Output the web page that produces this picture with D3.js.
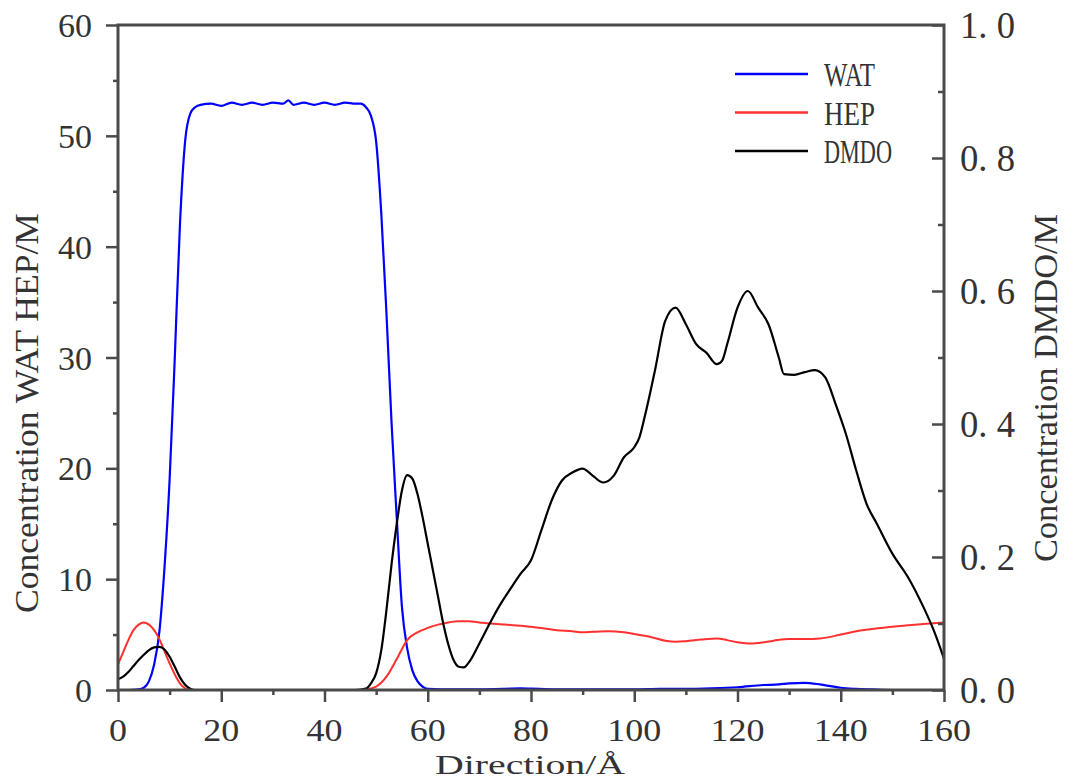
<!DOCTYPE html>
<html><head><meta charset="utf-8">
<script src="https://cdn.jsdelivr.net/npm/d3@7"></script>
<style>body{margin:0;background:#fff}svg{display:block}</style>
</head><body>
<svg id="chart" width="1068" height="782"></svg>
<script>
// ---------------- data ----------------
const watX = [0,2,4,5,6,7,8,9,10,11,12,13,14,15,16,18,20,22,24,26,28,30,32,33,34,36,38,40,42,44,46,47,48,49,50,51,52,53,54,55,56,57,58,59,60,65,70,75,78,80,85,90,95,100,105,110,115,120,125,128,130,133,136,138,140,143,146,150,155,160];
const watY = [0,0,0.05,0.2,0.8,2.3,5.2,11,19,30,42,49.5,52,52.6,52.8,52.9,52.7,53.0,52.8,53.0,52.8,53.0,52.9,53.2,52.8,53.0,52.8,53.0,52.8,53.0,52.9,52.9,52.6,51.8,49.5,43,34,24,15.5,7.5,3.8,1.8,0.8,0.3,0.1,0.05,0.05,0.1,0.15,0.12,0.05,0.05,0.05,0.05,0.1,0.1,0.15,0.25,0.45,0.5,0.6,0.65,0.5,0.35,0.2,0.1,0.05,0,0,0];

const hepX = [0,1,2,3,4,5,6,7,8,9,10,11,12,13,14,20,30,40,47,48,50,52,54,56,58,60,62,64,66,68,70,72,75,78,80,82,85,88,90,92,95,98,100,103,106,108,110,113,116,118,120,122,124,127,130,133,136,140,143,146,150,153,156,160];
const hepY = [2.3,3.4,4.5,5.4,5.9,6.1,5.9,5.4,4.6,3.5,2.4,1.4,0.6,0.15,0,0,0,0,0,0.05,0.3,1.2,2.8,4.5,5.2,5.6,5.9,6.1,6.2,6.2,6.1,6.0,5.9,5.8,5.7,5.6,5.4,5.3,5.2,5.25,5.3,5.2,5.05,4.8,4.45,4.35,4.4,4.55,4.65,4.5,4.3,4.2,4.25,4.45,4.6,4.6,4.65,5.0,5.3,5.5,5.7,5.85,5.95,6.1];

const dmdoX = [0,1,2,3,4,5,6,7,8,9,10,11,12,13,14,15,20,30,40,46,48,49,50,51,52,53,54,55,56,57,58,59,60,61,62,63,64,65,66,67,68,70,72,74,76,78,80,82,84,86,88,90,92,94,96,98,100,101,102,104,106,108,110,112,114,116,117,118,120,122,124,126,128,129,131,133,135,137,139,141,143,145,147,150,153,156,158,160];
const dmdoY = [0.016,0.02,0.027,0.036,0.045,0.053,0.06,0.064,0.065,0.061,0.05,0.035,0.019,0.008,0.002,0,0,0,0,0,0.002,0.01,0.025,0.06,0.12,0.19,0.25,0.3,0.323,0.318,0.295,0.26,0.22,0.18,0.14,0.1,0.068,0.045,0.035,0.034,0.042,0.07,0.1,0.128,0.152,0.175,0.195,0.24,0.285,0.315,0.327,0.333,0.322,0.312,0.322,0.35,0.365,0.38,0.41,0.48,0.555,0.575,0.55,0.52,0.507,0.49,0.495,0.52,0.575,0.6,0.575,0.55,0.5,0.475,0.474,0.478,0.481,0.47,0.43,0.385,0.33,0.28,0.25,0.205,0.17,0.125,0.09,0.047];

const xTicks = [0,20,40,60,80,100,120,140,160];
const xMinor = [10,30,50,70,90,110,130,150];
const yLeftTicks = [0,10,20,30,40,50,60];
const yLeftMinor = [5,15,25,35,45,55];
const yRightTicks = [0,0.2,0.4,0.6,0.8,1.0];
const yRightLabels = ["0. 0","0. 2","0. 4","0. 6","0. 8","1. 0"];
const yRightMinor = [0.1,0.3,0.5,0.7,0.9];
const seriesNames = ["WAT","HEP","DMDO"];
const seriesColors = ["#0000ff","#ff3030","#000000"];

// ---------------- drawing ----------------
const svg = d3.select("#chart");
const L = 118, R = 944, T = 25, B = 690;
const x = d3.scaleLinear().domain([0,160]).range([L,R]);
const yL = d3.scaleLinear().domain([0,60]).range([B,T]);
const yR = d3.scaleLinear().domain([0,1]).range([B,T]);
const axisColor = "#4a4a4a";
const textColor = "#333";
const FONT = "Liberation Serif, Times New Roman, serif";

// curves
const mk = (xs, ys) => xs.map((d,i)=>[d, ys[i]]);
const lineL = d3.line().x(d=>x(d[0])).y(d=>yL(d[1])).curve(d3.curveMonotoneX);
const lineR = d3.line().x(d=>x(d[0])).y(d=>yR(d[1])).curve(d3.curveMonotoneX);
const gLines = svg.append("g");
gLines.append("path").attr("d", lineL(mk(watX,watY))).attr("fill","none").attr("stroke",seriesColors[0]).attr("stroke-width",2.2);
gLines.append("path").attr("d", lineL(mk(hepX,hepY))).attr("fill","none").attr("stroke",seriesColors[1]).attr("stroke-width",2);
gLines.append("path").attr("d", lineR(mk(dmdoX,dmdoY))).attr("fill","none").attr("stroke",seriesColors[2]).attr("stroke-width",2.2);

// axes
function styleAxis(g){
  g.select(".domain").remove();
  g.selectAll(".tick line").attr("stroke",axisColor).attr("stroke-width",2.5);
  g.selectAll(".tick text").remove();
}
svg.append("g").attr("transform",`translate(${L},0)`).call(d3.axisLeft(yL).tickValues(yLeftTicks).tickSize(12)).call(styleAxis);
svg.append("g").attr("transform",`translate(${L},0)`).call(d3.axisLeft(yL).tickValues(yLeftMinor).tickSize(5)).call(styleAxis);
svg.append("g").attr("transform",`translate(0,${B})`).call(d3.axisBottom(x).tickValues(xTicks).tickSize(12)).call(styleAxis);
svg.append("g").attr("transform",`translate(0,${B})`).call(d3.axisBottom(x).tickValues(xMinor).tickSize(5)).call(styleAxis);
svg.append("g").attr("transform",`translate(${R},0)`).call(d3.axisRight(yR).tickValues(yRightTicks).tickSize(-12)).call(styleAxis);
svg.append("g").attr("transform",`translate(${R},0)`).call(d3.axisRight(yR).tickValues(yRightMinor).tickSize(-6)).call(styleAxis);

// frame
svg.append("path").attr("d",`M${L},${T}H${R}V${B}H${L}Z`).attr("fill","none").attr("stroke",axisColor).attr("stroke-width",3);

// tick labels
svg.append("g").selectAll("text").data(yLeftTicks).join("text")
  .attr("x", L-26).attr("y", d=>yL(d)+12).attr("text-anchor","end")
  .attr("font-family",FONT).attr("font-size",33).attr("fill",textColor)
  .attr("textLength", d=>String(d).length*17).attr("lengthAdjust","spacingAndGlyphs")
  .text(d=>d);
svg.append("g").selectAll("text").data(xTicks).join("text")
  .attr("x", d=>x(d)).attr("y", B+51).attr("text-anchor","middle")
  .attr("font-family",FONT).attr("font-size",32).attr("fill",textColor)
  .attr("textLength", d=>String(d).length*18).attr("lengthAdjust","spacingAndGlyphs")
  .text(d=>d);
svg.append("g").selectAll("text").data(yRightTicks).join("text")
  .attr("x", R+16).attr("y", (d)=>yR(d)+13).attr("text-anchor","start")
  .attr("font-family",FONT).attr("font-size",37).attr("fill",textColor)
  .attr("textLength", 55).attr("lengthAdjust","spacingAndGlyphs")
  .text((d,i)=>yRightLabels[i]);

// axis titles
svg.append("text").attr("transform","translate(38,613) rotate(-90)")
  .attr("font-family",FONT).attr("font-size",33).attr("fill",textColor)
  .attr("textLength",400).attr("lengthAdjust","spacingAndGlyphs")
  .text("Concentration WAT HEP/M");
svg.append("text").attr("transform","translate(1057,562) rotate(-90)")
  .attr("font-family",FONT).attr("font-size",33).attr("fill",textColor)
  .attr("textLength",348).attr("lengthAdjust","spacingAndGlyphs")
  .text("Concentration DMDO/M");
svg.append("text").attr("x",435).attr("y",774)
  .attr("font-family",FONT).attr("font-size",27).attr("fill",textColor)
  .attr("textLength",190).attr("lengthAdjust","spacingAndGlyphs")
  .text("Direction/Å");

// legend
const lg = svg.append("g");
seriesNames.forEach((n,i)=>{
  const yy = 74 + i*38.5;
  lg.append("line").attr("x1",735).attr("x2",808).attr("y1",yy).attr("y2",yy)
    .attr("stroke",seriesColors[i]).attr("stroke-width",2.5);
  lg.append("text").attr("x",824).attr("y",yy+12)
    .attr("font-family",FONT).attr("font-size",33).attr("fill",textColor)
    .attr("textLength",n.length*17).attr("lengthAdjust","spacingAndGlyphs")
    .text(n);
});
</script>
</body></html>
